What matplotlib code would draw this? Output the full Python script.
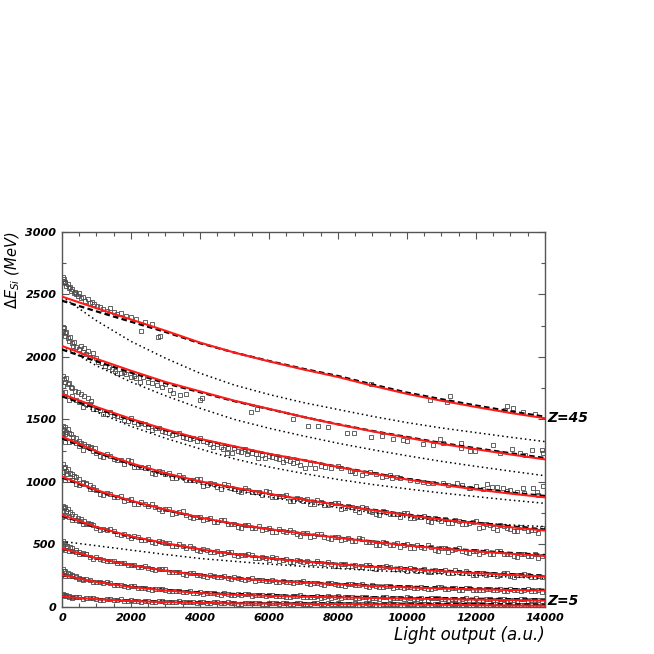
import matplotlib
matplotlib.use('Agg')
import matplotlib.pyplot as plt
from matplotlib.ticker import MultipleLocator

plt.rcParams['font.family'] = ['DejaVu Sans']
plt.rcParams['mathtext.fontset'] = 'dejavusans'

CURVE_X = [0, 1000, 2000, 3000, 4000, 5000, 6000, 7000, 8000, 9000, 10000, 11000, 12000, 13000, 14000]

# red solid fits
FIT_Z45 = [2483, 2390, 2300, 2210, 2115, 2035, 1965, 1900, 1840, 1770, 1705, 1650, 1600, 1552, 1510]
FIT_Z40 = [2088, 1985, 1890, 1800, 1725, 1650, 1585, 1520, 1460, 1405, 1355, 1305, 1262, 1220, 1181]
FIT_Z35 = [1704, 1600, 1505, 1420, 1345, 1285, 1225, 1175, 1120, 1068, 1020, 978, 940, 907, 877]
FIT_Z30 = [1363, 1245, 1150, 1070, 1005, 955, 905, 860, 817, 775, 735, 700, 668, 638, 611]
FIT_Z25 = [1043, 935, 850, 780, 715, 665, 622, 587, 554, 522, 492, 467, 445, 426, 408]
FIT_Z20 = [736, 640, 565, 510, 462, 422, 390, 364, 342, 322, 304, 287, 271, 257, 243]
FIT_Z15 = [469, 390, 335, 290, 255, 230, 210, 195, 181, 168, 157, 148, 141, 136, 131]
FIT_Z10 = [256, 200, 160, 132, 112, 98, 89, 82, 77, 72, 67, 63, 59, 55, 51]
FIT_Z5 = [83, 62, 48, 39, 33, 29, 27, 25, 23, 21, 19, 17, 15, 12, 10]

# black dashed curves
DASH_Z45 = [2450, 2365, 2282, 2200, 2110, 2035, 1968, 1905, 1848, 1780, 1715, 1662, 1612, 1565, 1522]
DASH_Z40 = [2060, 1965, 1875, 1790, 1718, 1646, 1583, 1520, 1462, 1408, 1360, 1312, 1270, 1230, 1192]
DASH_Z35 = [1685, 1588, 1495, 1413, 1340, 1282, 1224, 1175, 1122, 1072, 1025, 984, 948, 916, 888]
DASH_Z30 = [1350, 1235, 1143, 1065, 1002, 953, 904, 861, 820, 779, 740, 706, 675, 646, 620]
DASH_Z25 = [1035, 930, 846, 777, 713, 664, 622, 588, 556, 525, 496, 472, 451, 433, 416]
DASH_Z20 = [730, 636, 562, 508, 461, 422, 391, 366, 345, 326, 308, 292, 277, 263, 250]
DASH_Z15 = [466, 389, 335, 291, 257, 232, 213, 198, 185, 173, 163, 155, 149, 143, 138]
DASH_Z10 = [255, 201, 163, 136, 117, 104, 95, 88, 83, 78, 74, 70, 66, 63, 60]
DASH_Z5 = [82, 63, 50, 42, 36, 32, 30, 29, 28, 27, 26, 25, 23, 21, 19]

# black dotted curves
DOT_A = [2483, 2290, 2125, 1990, 1870, 1775, 1700, 1635, 1580, 1525, 1475, 1432, 1395, 1358, 1323]
DOT_B = [2088, 1930, 1800, 1690, 1590, 1500, 1430, 1368, 1310, 1258, 1210, 1165, 1125, 1087, 1050]
DOT_C = [1704, 1560, 1445, 1350, 1265, 1185, 1120, 1068, 1020, 980, 945, 912, 883, 855, 829]
DOT_D = [1363, 1240, 1135, 1050, 985, 930, 880, 835, 795, 755, 718, 693, 672, 656, 643]
DOT_E = [525, 490, 455, 420, 388, 365, 343, 325, 308, 292, 278, 264, 252, 240, 229]

# --- Data points (open squares) ---
MARK_X = [0, 200, 400, 600, 800, 1000, 1200, 1400, 1600, 1800, 2000, 2200, 2400, 2600, 2800,
          3000, 3200, 3400, 3600, 3800, 4000, 4200, 4400, 4600, 4800, 5000, 5200, 5400, 5600, 5800,
          6000, 6200, 6400, 6600, 6800, 7000, 7200, 7400, 7600, 7800, 8000, 8200, 8400, 8600, 8800,
          9000, 9200, 9400, 9600, 9800, 10000, 10200, 10400, 10600, 10800, 11000, 11200, 11400, 11600, 11800,
          12000, 12200, 12400, 12600, 12800, 13000, 13200, 13400, 13600, 13800]
MARK_X2 = [100, 300, 500, 700, 900, 1100, 1300, 1500, 1700, 1900, 2100, 2300, 2500, 2700, 2900,
           3100, 3300, 3500, 3700, 3900, 4100, 4300, 4500, 4700, 4900, 5100, 5300, 5500, 5700, 5900,
           6100, 6300, 6500, 6700, 6900, 7100, 7300, 7500, 7700, 7900, 8100, 8300, 8500, 8700, 8900,
           9100, 9300, 9500, 9700, 9900, 10100, 10300, 10500, 10700, 10900, 11100, 11300, 11500, 11700, 11900,
           12100, 12300, 12500, 12700, 12900, 13100, 13300, 13500, 13700, 13900]

MARK_Z30 = [1380, 1318, 1314, 1258, 1275, 1232, 1197, 1209, 1178, 1145, 1164, 1117, 1114, 1071, 1087,
            1060, 1031, 1054, 1013, 1012, 1022, 975, 985, 942, 972, 942, 917, 939, 917, 892,
            919, 880, 884, 848, 871, 850, 825, 853, 816, 820, 834, 789, 800, 759, 790,
            762, 739, 763, 743, 720, 749, 712, 718, 684, 709, 690, 668, 697, 663, 668,
            685, 642, 656, 617, 651, 625, 605, 631, 614, 593]
MARK2_Z30 = [1320, 1331, 1284, 1291, 1248, 1210, 1223, 1181, 1174, 1174, 1119, 1119, 1119, 1065, 1076,
             1069, 1030, 1040, 1012, 1020, 970, 995, 962, 982, 952, 925, 948, 916, 917, 925,
             878, 885, 892, 845, 863, 861, 827, 841, 818, 830, 783, 809, 778, 799, 771,
             746, 771, 741, 744, 754, 709, 718, 727, 682, 702, 703, 670, 687, 665, 680,
             635, 664, 635, 659, 633, 610, 638, 610, 616, 628]
MARK_Z25 = [1049, 1016, 982, 990, 945, 935, 895, 904, 877, 848, 860, 824, 820, 824, 780,
            782, 743, 762, 733, 708, 721, 701, 679, 699, 665, 665, 634, 652, 633, 613,
            632, 603, 606, 617, 580, 589, 556, 582, 559, 541, 560, 544, 525, 549, 518,
            522, 494, 514, 498, 480, 502, 475, 480, 493, 458, 469, 439, 466, 446, 429,
            451, 437, 421, 448, 420, 426, 400, 423, 409, 394]
MARK2_Z25 = [1014, 1017, 977, 980, 941, 906, 913, 880, 885, 856, 827, 841, 808, 803, 765,
             780, 752, 764, 721, 722, 692, 708, 680, 694, 666, 641, 656, 632, 645, 625,
             603, 624, 598, 600, 569, 590, 568, 587, 550, 558, 533, 553, 528, 546, 521,
             499, 517, 495, 511, 493, 474, 497, 473, 477, 448, 471, 452, 472, 438, 447,
             425, 447, 426, 446, 424, 404, 425, 405, 424, 408]
MARK_Z20 = [721, 719, 692, 664, 666, 632, 623, 620, 584, 581, 549, 559, 537, 518, 525,
            508, 490, 501, 475, 472, 447, 458, 443, 426, 438, 414, 415, 421, 394, 398,
            374, 391, 375, 361, 374, 362, 350, 366, 345, 347, 327, 342, 331, 318, 334,
            314, 317, 327, 302, 310, 288, 307, 292, 281, 295, 285, 274, 292, 271, 275,
            256, 272, 262, 251, 268, 249, 253, 263, 240, 248]
MARK2_Z20 = [731, 693, 688, 661, 659, 617, 616, 608, 577, 569, 571, 536, 541, 511, 517,
             514, 488, 484, 487, 453, 464, 438, 445, 428, 436, 404, 412, 414, 390, 390,
             399, 371, 382, 357, 368, 371, 350, 352, 359, 331, 346, 324, 335, 322, 334,
             305, 316, 321, 300, 303, 314, 288, 300, 278, 290, 294, 275, 278, 286, 259,
             275, 254, 267, 255, 268, 240, 252, 258, 238, 241]
MARK_Z15 = [467, 444, 441, 420, 399, 399, 376, 370, 348, 350, 334, 319, 324, 304, 300,
            300, 278, 279, 259, 268, 253, 242, 250, 240, 229, 239, 223, 224, 209, 218,
            209, 200, 211, 197, 199, 205, 187, 192, 177, 190, 179, 170, 181, 173, 165,
            177, 163, 166, 152, 163, 156, 148, 160, 147, 151, 158, 142, 148, 134, 148,
            139, 132, 144, 138, 131, 145, 132, 136, 124, 136]
MARK2_Z15 = [453, 449, 426, 420, 387, 387, 368, 371, 350, 332, 336, 317, 313, 294, 301,
             283, 283, 266, 275, 256, 245, 252, 240, 245, 222, 231, 219, 229, 215, 204,
             214, 201, 203, 190, 203, 190, 194, 182, 195, 180, 173, 182, 172, 180, 159,
             170, 160, 171, 159, 150, 162, 150, 153, 141, 156, 144, 150, 138, 153, 139,
             133, 144, 136, 145, 126, 138, 129, 142, 131, 123]
MARK_Z10 = [265, 244, 236, 216, 215, 201, 188, 192, 175, 171, 170, 152, 153, 137, 145,
            132, 124, 130, 122, 113, 121, 109, 110, 99, 106, 99, 92, 102, 92, 94,
            99, 86, 90, 79, 90, 82, 77, 86, 81, 75, 86, 76, 79, 69, 78,
            73, 67, 78, 68, 71, 77, 64, 69, 59, 71, 63, 58, 67, 63, 57,
            68, 58, 61, 52, 61, 56, 50, 61, 52, 55]
MARK2_Z10 = [247, 246, 226, 221, 200, 199, 197, 178, 177, 160, 164, 152, 140, 144, 145,
             129, 128, 117, 126, 114, 107, 115, 105, 108, 94, 100, 104, 91, 97, 86,
             95, 88, 79, 88, 92, 80, 82, 74, 86, 77, 73, 83, 74, 79, 67,
             74, 79, 67, 73, 63, 73, 66, 59, 68, 73, 61, 63, 56, 68, 59,
             55, 65, 57, 62, 50, 57, 62, 51, 57, 47]
MARK_Z5 = [92, 78, 79, 67, 73, 64, 57, 62, 56, 50, 56, 47, 48, 39, 46,
           41, 37, 44, 36, 37, 42, 32, 36, 28, 37, 31, 27, 34, 31, 26,
           35, 28, 30, 23, 30, 27, 24, 31, 25, 26, 32, 23, 27, 19, 28,
           23, 19, 26, 23, 18, 27, 20, 22, 15, 22, 19, 16, 23, 17, 18,
           24, 15, 19, 11, 20, 14, 10, 17, 14, 9]
MARK2_Z5 = [84, 75, 79, 70, 70, 58, 62, 55, 60, 49, 50, 42, 49, 43, 49,
            38, 41, 37, 41, 32, 36, 30, 38, 32, 35, 27, 33, 29, 35, 27,
            30, 23, 32, 27, 34, 25, 28, 25, 30, 22, 27, 21, 29, 23, 27,
            19, 25, 21, 27, 19, 22, 15, 24, 19, 26, 17, 20, 17, 22, 14,
            19, 13, 21, 15, 18, 10, 16, 12, 18, 9]

# low-light clusters sitting above the fits
EARLY_Z30_X = [20, 30, 40, 80, 100, 120, 160, 200, 260, 320, 400, 480, 560, 650, 750, 850, 950]
EARLY_Z30_Y = [1450, 1390, 1420, 1440, 1380, 1400, 1420, 1390, 1380, 1360, 1350, 1330, 1310, 1300, 1290, 1280, 1270]
EARLY_Z25_X = [20, 40, 50, 80, 120, 150, 170, 220, 280, 350, 420, 500, 600, 700, 800, 900]
EARLY_Z25_Y = [1140, 1080, 1110, 1120, 1090, 1060, 1100, 1070, 1060, 1050, 1040, 1020, 1000, 990, 975, 960]
EARLY_Z20_X = [20, 40, 50, 90, 130, 180, 240, 300, 380, 460, 550, 650, 750, 850]
EARLY_Z20_Y = [810, 770, 790, 800, 770, 780, 760, 740, 730, 715, 700, 690, 675, 665]
EARLY_Z15_X = [20, 40, 50, 100, 150, 220, 300, 400, 500, 600, 700]
EARLY_Z15_Y = [530, 490, 510, 505, 490, 480, 470, 455, 440, 430, 420]
EARLY_Z10_X = [20, 60, 100, 160, 230, 300, 400, 500, 600]
EARLY_Z10_Y = [300, 285, 290, 270, 265, 255, 245, 235, 225]
EARLY_Z5_X = [20, 60, 120, 200, 300, 400]
EARLY_Z5_Y = [105, 95, 92, 85, 80, 78]

MARK_Z35_X = [20, 40, 50, 80, 120, 160, 200, 250, 300, 380, 450, 550, 650, 750, 850,
              0, 200, 400, 600, 800, 1000, 1200, 1400, 1600, 1800, 2000, 2200, 2400, 2600, 2800,
              3000, 3200, 3400, 3600, 3800, 4000,
              100, 300, 500, 700, 900, 1100, 1300, 1500, 1700, 1900, 2100, 2300, 2500, 2700, 2900,
              3100, 3300, 3500, 3700, 3900,
              4200, 4390, 4500, 4680, 4770, 4920, 5000, 5180, 5360, 5400, 5620, 5690, 5880, 6000, 6200,
              6420, 6500, 6700, 6900, 7040, 7330, 7620, 8010, 8350, 8490, 8690, 8930, 9270, 9510, 9560,
              9700, 10090, 10470, 10760, 11050, 11440, 11600, 11820, 12000, 12310, 12450, 12600, 12790, 12990, 13180,
              13370, 13660, 13760, 13950,
              4100, 4300, 4600, 4800, 5100, 5300, 5500, 5800, 6100, 6300, 6600, 6800, 7200, 7500, 7800,
              8100, 8400, 8800, 9100, 9400, 9800, 10300, 10600, 11200, 11800, 12200, 12900, 13400, 13800]
MARK_Z35_Y = [1850, 1770, 1820, 1800, 1830, 1780, 1790, 1760, 1750, 1730, 1720, 1700, 1690, 1670, 1650,
              1714, 1658, 1657, 1601, 1620, 1580, 1546, 1559, 1528, 1494, 1512, 1466, 1461, 1416, 1432,
              1403, 1373, 1393, 1350, 1348, 1355,
              1720, 1690, 1640, 1625, 1585, 1575, 1545, 1535, 1520, 1490, 1480, 1470, 1440, 1430, 1405,
              1395, 1380, 1360, 1340, 1330,
              1320, 1283, 1300, 1264, 1235, 1229, 1270, 1237, 1221, 1250, 1221, 1189, 1189, 1210, 1190,
              1163, 1175, 1149, 1136, 1109, 1109, 1123, 1131, 1091, 1069, 1056, 1077, 1043, 1056, 1029,
              1040, 1016, 1003, 990, 989, 989, 975, 949, 970, 984, 960, 963, 949, 936, 923,
              949, 949, 923, 968,
              1330, 1300, 1280, 1270, 1250, 1260, 1230, 1215, 1200, 1185, 1170, 1160, 1140, 1130, 1115,
              1110, 1090, 1075, 1060, 1045, 1030, 1010, 995, 975, 955, 945, 925, 910, 895]

MARK_Z40_X = [20, 40, 60, 80, 100, 130, 160, 200, 240, 280, 320, 360, 420, 480, 540,
              600, 650, 700, 760, 820, 900, 980, 1050, 1150, 1250, 1350, 1450, 1550, 1700, 1850,
              2000, 2150, 2350, 2500, 2740, 3130, 3220, 3420, 3600, 4000, 4050,
              1600, 1800, 2100, 2250, 2600, 2900, 3000,
              5490, 5640, 6700, 7140, 7430, 7720, 8250, 8450, 8970, 9270, 9600, 9890, 9990, 10470,
              10760, 10950, 11050, 11580, 11580, 11820, 11970, 12500, 12700, 13030, 13280, 13420, 13610, 13900, 13950]
MARK_Z40_Y = [2240, 2210, 2230, 2190, 2170, 2200, 2150, 2130, 2160, 2110, 2090, 2120, 2080, 2060, 2090,
              2040, 2070, 2020, 2050, 2000, 2030, 1990, 1960, 1950, 1930, 1920, 1900, 1890, 1870, 1860,
              1840, 1830, 1843, 1800, 1776, 1736, 1712, 1696, 1700, 1656, 1670,
              1870, 1880, 1850, 1800, 1790, 1760, 1780,
              1563, 1581, 1501, 1451, 1451, 1440, 1389, 1389, 1360, 1368, 1344, 1336, 1328, 1301,
              1296, 1341, 1309, 1309, 1269, 1251, 1251, 1296, 1235, 1261, 1229, 1216, 1256, 1256, 1230]

MARK_Z45_X = [20, 40, 60, 80, 100, 130, 160, 190, 220, 260, 300, 340, 380, 420, 460,
              500, 560, 620, 680, 740, 800, 860, 940, 1020, 1100, 1200, 1300, 1400, 1500, 1600,
              1700, 1850, 2000, 2150, 2300, 2400, 2600, 2790, 2840,
              8960, 10660, 11150, 11240, 12830, 12910, 13070, 13350, 13700]
MARK_Z45_Y = [2640, 2610, 2620, 2590, 2600, 2570, 2580, 2550, 2560, 2530, 2540, 2510, 2520, 2500, 2490,
              2510, 2470, 2480, 2450, 2460, 2430, 2440, 2420, 2410, 2400, 2380, 2370, 2390, 2360, 2340,
              2350, 2330, 2320, 2300, 2208, 2280, 2260, 2157, 2170,
              1781, 1656, 1643, 1688, 1576, 1611, 1592, 1563, 1545]

# Z labels at the right-hand end
LABELS = [('Z=45', 1512), ('Z=5', 45)]

# --- Plot ---
fig = plt.figure(figsize=(6.54, 6.54), dpi=100)
ax = fig.add_axes([0.0948, 0.0719, 0.7385, 0.5734])

mk = dict(marker='s', linestyle='none', mfc='none', mec='#4a4a4a', ms=3.2, mew=0.6, zorder=1)
for ys in [MARK_Z30, MARK_Z25, MARK_Z20, MARK_Z15, MARK_Z10, MARK_Z5]:
    ax.plot(MARK_X, ys, **mk)
for ys in [MARK2_Z30, MARK2_Z25, MARK2_Z20, MARK2_Z15, MARK2_Z10, MARK2_Z5]:
    ax.plot(MARK_X2, ys, **mk)
for xs, ys in [(EARLY_Z30_X, EARLY_Z30_Y), (EARLY_Z25_X, EARLY_Z25_Y), (EARLY_Z20_X, EARLY_Z20_Y),
               (EARLY_Z15_X, EARLY_Z15_Y), (EARLY_Z10_X, EARLY_Z10_Y), (EARLY_Z5_X, EARLY_Z5_Y),
               (MARK_Z35_X, MARK_Z35_Y), (MARK_Z40_X, MARK_Z40_Y), (MARK_Z45_X, MARK_Z45_Y)]:
    ax.plot(xs, ys, **mk)

for ys in [DOT_A, DOT_B, DOT_C, DOT_D, DOT_E]:
    ax.plot(CURVE_X, ys, color='black', linestyle=(0, (1, 2)), lw=1.1, zorder=2)

for ys in [DASH_Z45, DASH_Z40, DASH_Z35, DASH_Z30, DASH_Z25, DASH_Z20, DASH_Z15, DASH_Z10, DASH_Z5]:
    ax.plot(CURVE_X, ys, color='black', linestyle=(0, (2.5, 1.5)), lw=1.6, zorder=3)

for ys in [FIT_Z45, FIT_Z40, FIT_Z35, FIT_Z30, FIT_Z25, FIT_Z20, FIT_Z15, FIT_Z10, FIT_Z5]:
    ax.plot(CURVE_X, ys, color='#ff1a1a', lw=1.5, zorder=4)

ax.set_xlim(0, 14000)
ax.set_ylim(0, 3000)
ax.xaxis.set_major_locator(MultipleLocator(2000))
ax.xaxis.set_minor_locator(MultipleLocator(500))
ax.yaxis.set_major_locator(MultipleLocator(500))
ax.yaxis.set_minor_locator(MultipleLocator(250))
ax.tick_params(which='both', direction='in', top=True, right=True, color='#555555')
ax.tick_params(which='major', length=5, width=0.8)
ax.tick_params(which='minor', length=3, width=0.8)
ax.tick_params(axis='both', which='major', labelsize=8, pad=4)
for lab in ax.get_xticklabels() + ax.get_yticklabels():
    lab.set_fontweight('bold')
    lab.set_fontstyle('italic')
for sp in ax.spines.values():
    sp.set_color('#555555')
    sp.set_linewidth(1.0)

ax.set_xlabel('Light output (a.u.)', loc='right', fontsize=12, fontstyle='italic')
ax.xaxis.set_label_coords(1.0, -0.05)
ax.set_ylabel(r'$\Delta\mathit{E}_{\mathit{Si}}$ (MeV)', loc='top', fontsize=10.5, fontstyle='italic')
ax.yaxis.set_label_coords(-0.083, 1.0)

for txt, yv in LABELS:
    ax.text(14060, yv, txt, ha='left', va='center', fontsize=10, fontweight='bold',
            fontstyle='italic', clip_on=False)

plt.savefig('out.png', dpi=100)
plt.close(fig)
